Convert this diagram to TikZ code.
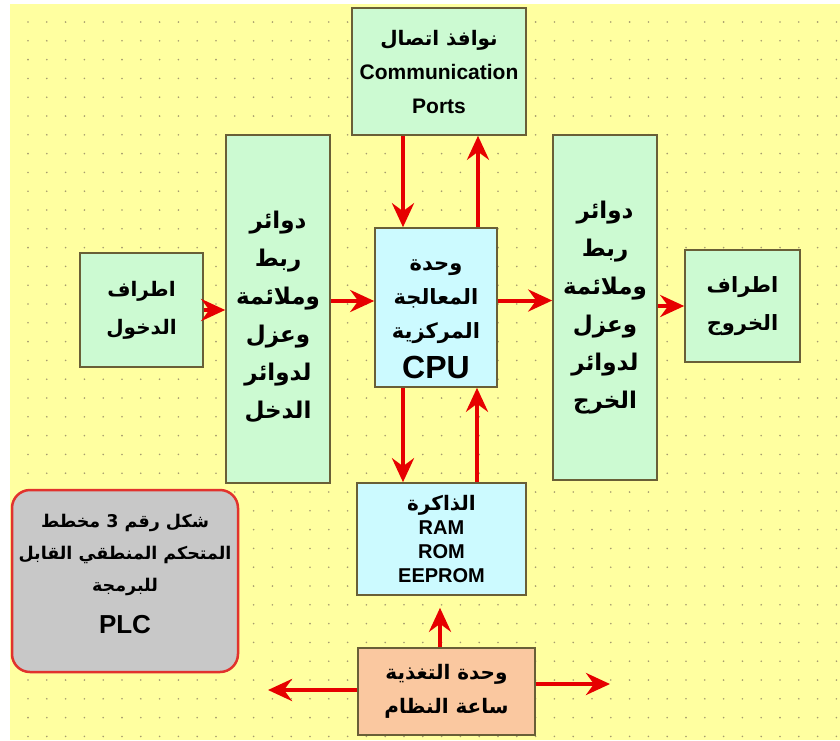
\documentclass[tikz,border=0pt]{standalone}
\usepackage{fontspec}
\setmainfont{Liberation Sans}
\newfontfamily\arabicfont[Script=Arabic]{DejaVu Sans}
\TeXXeTstate=1
\usepackage{tikz}
\usetikzlibrary{arrows.meta,positioning}
\definecolor{bgyellow}{RGB}{255,255,160}
\definecolor{dotgray}{RGB}{165,155,110}
\definecolor{boxline}{RGB}{105,95,55}
\definecolor{mint}{RGB}{204,250,210}
\definecolor{skyc}{RGB}{204,250,255}
\definecolor{peach}{RGB}{250,200,160}
\definecolor{plcgray}{RGB}{200,200,200}
\definecolor{plcred}{RGB}{225,50,45}
\definecolor{arrred}{RGB}{230,0,0}
\newcommand{\artxt}[1]{{\arabicfont\beginR #1\endR}}

\begin{document}
\begin{tikzpicture}[x=1pt,y=-1pt,
    blk/.style={draw=boxline,line width=1.6pt,inner sep=0pt,align=center,
      font=\bfseries\fontsize{20}{38}\selectfont},
    greenblk/.style={blk,fill=mint},
    cyanblk/.style={blk,fill=skyc},
    flow/.style={draw=arrred,line width=4pt,-{Stealth[length=24pt,width=22pt,inset=8pt]}}]
    \useasboundingbox (0,0) rectangle (840,740);
    \fill[bgyellow] (10,4) rectangle (840,740);
    \foreach \i in {0,...,43}
      \foreach \j in {0,...,38}
        \fill[dotgray] ({28+18.8*\i},{22+18.8*\j}) circle (0.9pt);

    % blocks
    \node[greenblk,minimum width=174pt,minimum height=127pt] (ports) at (439,71.5)
      {\artxt{نوافذ اتصال}\\[-4pt]{\fontsize{21}{22}\selectfont Communication}\\[-4pt]{\fontsize{21}{22}\selectfont Ports}};
    \node[greenblk,minimum width=104pt,minimum height=348pt,font=\bfseries\fontsize{23}{38}\selectfont] (inif) at (278,309)
      {\rule{0pt}{34pt}\artxt{دوائر}\\\artxt{ربط}\\\artxt{وملائمة}\\\artxt{وعزل}\\\artxt{لدوائر}\\\artxt{الدخل}};
    \node[greenblk,minimum width=123pt,minimum height=114pt] (input) at (141.5,310)
      {\artxt{اطراف}\\\artxt{الدخول}};
    \node[cyanblk,minimum width=122pt,minimum height=159pt,font=\bfseries\fontsize{21}{38}\selectfont] (cpu) at (436,307.5)
      {\rule{0pt}{34pt}\artxt{وحدة}\\[-4pt]\artxt{المعالجة}\\[-4pt]\artxt{المركزية}\\[2pt]{\fontsize{32}{34}\selectfont CPU}};
    \node[greenblk,minimum width=104pt,minimum height=345pt,font=\bfseries\fontsize{23}{38}\selectfont] (outif) at (605,307.5)
      {\artxt{دوائر}\\\artxt{ربط}\\\artxt{وملائمة}\\\artxt{وعزل}\\\artxt{لدوائر}\\\artxt{الخرج}};
    \node[greenblk,minimum width=115pt,minimum height=112pt,font=\bfseries\fontsize{21}{38}\selectfont] (output) at (742.5,306)
      {\artxt{اطراف}\\\artxt{الخروج}};
    \node[cyanblk,minimum width=169pt,minimum height=112pt] (mem) at (441.5,539)
      {\artxt{الذاكرة}\\[-14pt]{\fontsize{20}{20}\selectfont RAM}\\[-14pt]{\fontsize{20}{20}\selectfont ROM}\\[-14pt]{\fontsize{20}{20}\selectfont EEPROM}};
    \node[blk,fill=peach,minimum width=177pt,minimum height=87pt] (power) at (446.5,691.5)
      {\artxt{وحدة التغذية}\\[-4pt]\artxt{ساعة النظام}};
    \node[blk,fill=plcgray,draw=plcred,line width=2.5pt,rounded corners=18pt,
      minimum width=226pt,minimum height=182pt,font=\bfseries\fontsize{17.5}{38}\selectfont] (plc) at (125,581)
      {\artxt{شكل رقم 3 مخطط}\\[-6pt]\artxt{المتحكم المنطقي القابل}\\[-6pt]\artxt{للبرمجة}\\[4pt]{\fontsize{26}{28}\selectfont PLC}\rule[-14pt]{0pt}{14pt}};

    \coordinate (pwl) at (268,690);
    \coordinate (pwr) at (610,684);

    % connections
    \draw[flow] (input.east) -- (input.east -| inif.west);
    \draw[flow] ([yshift=8pt]inif.east) -- ([yshift=8pt]inif.east -| cpu.west);
    \draw[flow] ([yshift=7pt]cpu.east) -- ([yshift=7pt]cpu.east -| outif.west);
    \draw[flow] (output.west -| outif.east) -- (output.west);
    \draw[flow] ([xshift=-36pt]ports.south) -- ([xshift=-33pt]cpu.north);
    \draw[flow] ([xshift=42pt]cpu.north) -- ([xshift=39pt]ports.south);
    \draw[flow] ([xshift=-33pt]cpu.south) -- ([xshift=-38.5pt]mem.north);
    \draw[flow] ([xshift=35.5pt]mem.north) -- ([xshift=41pt]cpu.south);
    \draw[flow] ([xshift=-6.5pt]power.north) -- ([xshift=-1.5pt,yshift=-12pt]mem.south);
    \draw[flow] (power.west |- pwl) -- (pwl);
    \draw[flow] (power.east |- pwr) -- (pwr);
\end{tikzpicture}
\end{document}
